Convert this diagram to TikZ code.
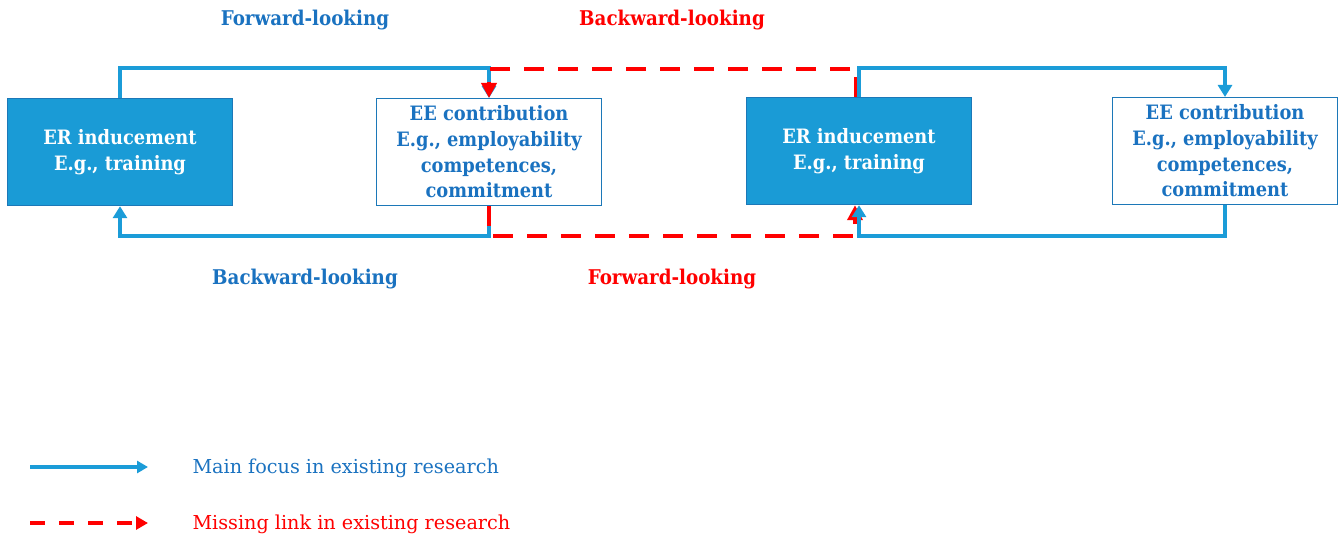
\documentclass[tikz,border=0pt]{standalone}
\usepackage{fontspec}
\setmainfont{DejaVu Serif}
\newfontfamily\boxfont{DejaVu Serif Condensed}[BoldFont={DejaVu Serif Condensed Bold}]
\usetikzlibrary{arrows.meta}

\definecolor{linkblue}{HTML}{1B9CD8}
\definecolor{fillblue}{HTML}{1A9BD6}
\definecolor{edgeblue}{HTML}{1C78B8}
\definecolor{textblue}{HTML}{1A72C0}
\definecolor{gapred}{HTML}{FF0000}

\tikzset{
  x=1pt, y=-1pt,
  cell/.style={minimum width=225pt, minimum height=107pt, inner sep=2pt,
    align=center, font=\boxfont\bfseries\fontsize{19.8}{25.7}\selectfont, line width=1.4pt},
  erbox/.style={cell, fill=fillblue, draw=edgeblue, text=white},
  eebox/.style={cell, fill=white, draw=edgeblue, text=textblue, line width=1.1pt},
  mainlink/.style={draw=linkblue, line width=4.2pt,
    -{Triangle[width=14pt,length=12pt]}},
  gaplink/.style={draw=gapred, line width=4.2pt, dash pattern=on 20pt off 14pt,
    -{Triangle[width=15pt,length=15pt]}},
  toplabel/.style={font=\boxfont\bfseries\fontsize{20.3}{22}\selectfont},
  legendtext/.style={anchor=west, font=\fontsize{19.2}{22}\selectfont}
}

\begin{document}
\begin{tikzpicture}
\useasboundingbox (0,0) rectangle (1338,536);

% the four boxes
\node[erbox] (er1) at (120,152) {ER inducement\\E.g., training};
\node[eebox] (ee1) at (489,152) {EE contribution\\E.g., employability\\competences,\\commitment};
\node[erbox] (er2) at (859,151) {ER inducement\\E.g., training};
\node[eebox] (ee2) at (1225,151) {EE contribution\\E.g., employability\\competences,\\commitment};

% studied links, first pair
\draw[mainlink] (er1.north) -- ++(0,-30) -| (ee1.north);
\draw[mainlink] (ee1.south) -- ++(0,30) -| (er1.south);

% missing links between the pairs
\draw[gaplink] ([xshift=-3pt]er2.north) -- ++(0,-28) -| (ee1.north);
\draw[gaplink] (ee1.south) -- ++(0,30) -| ([xshift=-4pt]er2.south);

% studied links, second pair
\draw[mainlink] (er2.north) -- ++(0,-29) -| (ee2.north);
\draw[mainlink] (ee2.south) -- ++(0,31) -| (er2.south);

% labels of the links
\node[toplabel, text=textblue] (fl1) at (305,20) {Forward-looking};
\node[toplabel, text=gapred] (bl2) at (672,20) {Backward-looking};
\node[toplabel, text=textblue] (bl1) at (305,279) {Backward-looking};
\node[toplabel, text=gapred] (fl2) at (672,279) {Forward-looking};

% legend
\coordinate (m1) at (30,467);
\coordinate (m2) at (148,467);
\coordinate (g1) at (30,523);
\coordinate (g2) at (148,523);
\draw[mainlink, line width=3.4pt, -{Triangle[width=12pt,length=11pt]}] (m1) -- (m2);
\draw[gaplink, line width=4pt, dash pattern=on 15pt off 14pt,
  -{Triangle[width=13pt,length=12pt]}] (g1) -- (g2);
\node[legendtext, text=textblue] (lm) at (189,468) {Main focus in existing research};
\node[legendtext, text=gapred] (lg) at (189,524) {Missing link in existing research};
\end{tikzpicture}
\end{document}
